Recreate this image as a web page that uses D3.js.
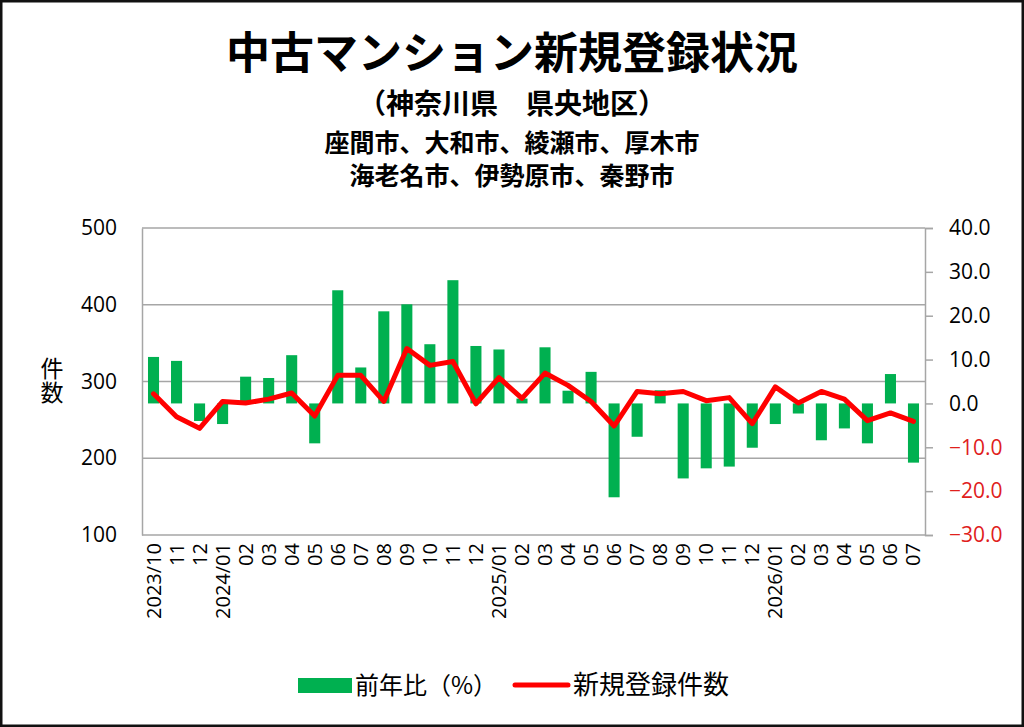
<!DOCTYPE html>
<html>
<head>
<meta charset="utf-8">
<script src="https://cdn.jsdelivr.net/npm/d3@7"></script>
<style>
  html, body { margin: 0; padding: 0; background: #fff; }
  svg text { font-family: "Noto Sans CJK JP", "Noto Sans", sans-serif; }
</style>
</head>
<body>
<svg id="chart" width="1024" height="727"></svg>
<script>
// 月ラベル (2023/10 - 2026/07)
const months = ["2023/10","11","12","2024/01","02","03","04","05","06","07","08","09","10","11","12",
  "2025/01","02","03","04","05","06","07","08","09","10","11","12",
  "2026/01","02","03","04","05","06","07"];
// 前年比(%)
const yoy = [10.6, 9.7, -4.0, -4.7, 6.1, 5.8, 11.0, -9.1, 25.8, 8.2, 21.0, 22.6, 13.5, 28.1, 13.1,
  12.3, 1.1, 12.8, 2.9, 7.2, -21.4, -7.6, 3.0, -17.1, -14.8, -14.4, -10.1,
  -4.7, -2.3, -8.4, -5.7, -9.1, 6.7, -13.5];
// 新規登録件数
const counts = [284, 254, 239, 274, 272, 277, 285, 255, 308, 308, 274, 343, 321, 326, 271,
  305, 278, 311, 295, 274, 242, 287, 284, 287, 275, 279, 245,
  293, 272, 287, 277, 249, 259, 248];
const leftTicks = [100, 200, 300, 400, 500];
const rightTicks = [-30, -20, -10, 0, 10, 20, 30, 40];

const svg = d3.select("#chart");
const plotL = 142, plotR = 925, plotT = 228, plotB = 535;
const green = "#00b050", red = "#ff0000", grid = "#a6a6a6";

svg.append("rect")
  .attr("x", 1.25).attr("y", 1.25).attr("width", 1021.5).attr("height", 724.5)
  .attr("fill", "#fff").attr("stroke", "#111").attr("stroke-width", 2.5);

// タイトル
const titles = [
  {t: "中古マンション新規登録状況", y: 69, size: 44},
  {t: "（神奈川県　県央地区）", y: 114, size: 28},
  {t: "座間市、大和市、綾瀬市、厚木市", y: 152, size: 25},
  {t: "海老名市、伊勢原市、秦野市", y: 185, size: 25}
];
svg.selectAll(".title").data(titles).enter().append("text")
  .attr("class", "title")
  .attr("x", 512).attr("y", d => d.y)
  .attr("text-anchor", "middle")
  .attr("font-size", d => d.size)
  .attr("font-weight", "bold")
  .attr("fill", "#000")
  .text(d => d.t);

const x = d3.scaleBand().domain(d3.range(months.length))
  .range([plotL, plotR]).paddingInner(0.52).paddingOuter(0.26);
const yL = d3.scaleLinear().domain([100, 500]).range([plotB, plotT]);
const yR = d3.scaleLinear().domain([-30, 40]).range([plotB, plotT]);

// グリッド
svg.append("g").selectAll("line").data(leftTicks.slice(1)).enter().append("line")
  .attr("x1", plotL).attr("x2", plotR)
  .attr("y1", d => yL(d)).attr("y2", d => yL(d))
  .attr("stroke", grid).attr("stroke-width", 1.5);

// 左軸
const axL = svg.append("g").attr("transform", `translate(${plotL},0)`)
  .call(d3.axisLeft(yL).tickValues(leftTicks).tickSize(0).tickPadding(25));
axL.select(".domain").attr("stroke", grid).attr("stroke-width", 1.5);
axL.selectAll("text").attr("font-size", 21).attr("fill", "#000")
  .style("font-family", "'Open Sans', 'Noto Sans', sans-serif");

// 右軸
const axR = svg.append("g").attr("transform", `translate(${plotR},0)`)
  .call(d3.axisRight(yR).tickValues(rightTicks).tickSize(8).tickPadding(16).tickFormat(d3.format(".1f")));
axR.select(".domain").attr("stroke", grid).attr("stroke-width", 1.5);
axR.selectAll(".tick line").attr("stroke", grid).attr("stroke-width", 1.5);
axR.selectAll("text").attr("font-size", 21)
  .attr("fill", d => d < 0 ? "#e0201c" : "#000")
  .style("font-family", "'Open Sans', 'Noto Sans', sans-serif");

// 下軸
svg.append("line").attr("x1", plotL).attr("x2", plotR)
  .attr("y1", plotB).attr("y2", plotB)
  .attr("stroke", grid).attr("stroke-width", 1.5);

const axB = svg.append("g").attr("transform", `translate(0,${plotB})`)
  .call(d3.axisBottom(x).tickSize(0).tickFormat(i => months[i]));
axB.select(".domain").remove();
axB.selectAll("text")
  .attr("font-size", 20).attr("fill", "#000")
  .attr("transform", "rotate(-90)")
  .attr("text-anchor", "end")
  .attr("x", -8).attr("y", 0).attr("dy", "0.35em")
  .style("font-family", "'Open Sans', 'Noto Sans', sans-serif");

// 棒 (前年比)
svg.append("g").selectAll("rect").data(yoy).enter().append("rect")
  .attr("x", (d, i) => x(i))
  .attr("width", x.bandwidth())
  .attr("y", d => d > 0 ? yR(d) : yR(0))
  .attr("height", d => Math.abs(yR(d) - yR(0)))
  .attr("fill", green);

// 折れ線 (件数)
const line = d3.line().x((d, i) => x(i) + x.bandwidth() / 2).y(d => yL(d));
svg.append("path").datum(counts)
  .attr("d", line)
  .attr("fill", "none").attr("stroke", red)
  .attr("stroke-width", 5).attr("stroke-linejoin", "round").attr("stroke-linecap", "round");

// 縦軸タイトル (縦書き)
svg.append("text").attr("x", 52).attr("y", 381)
  .attr("text-anchor", "middle").attr("font-size", 23)
  .style("writing-mode", "vertical-rl")
  .style("letter-spacing", "1px")
  .text("件数");

// 凡例
const lg = svg.append("g");
lg.append("rect").attr("x", 298).attr("y", 678).attr("width", 54).attr("height", 15).attr("fill", green);
lg.append("text").attr("x", 355).attr("y", 694).attr("font-size", 24).text("前年比（%）");
lg.append("line").attr("x1", 515).attr("x2", 568).attr("y1", 685).attr("y2", 685)
  .attr("stroke", red).attr("stroke-width", 5).attr("stroke-linecap", "round");
lg.append("text").attr("x", 573).attr("y", 694).attr("font-size", 26).text("新規登録件数");
</script>
</body>
</html>
